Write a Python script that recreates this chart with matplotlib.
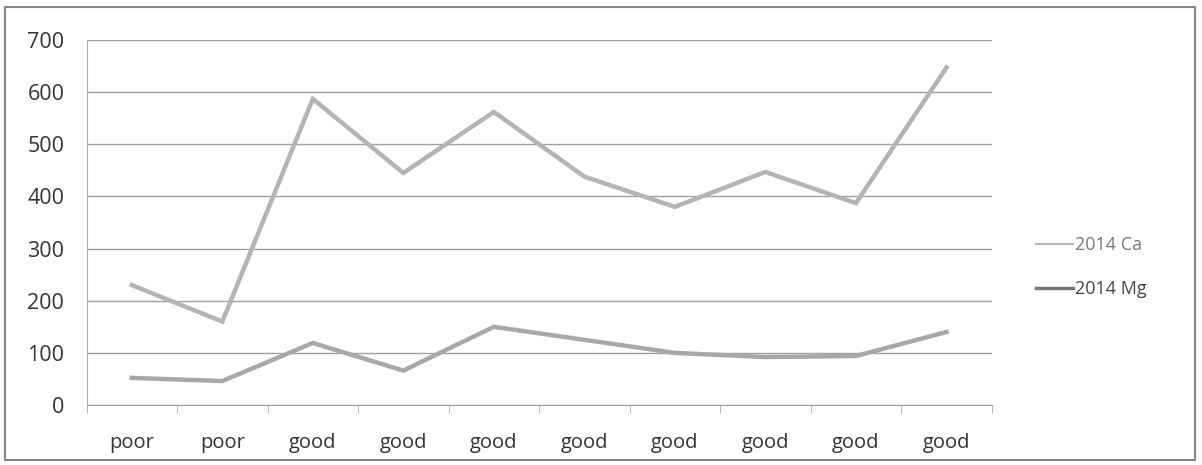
import numpy as np
import matplotlib.pyplot as plt
from matplotlib.patches import Rectangle

# donnees
categories = ['poor', 'poor', 'good', 'good', 'good', 'good', 'good', 'good', 'good', 'good']
ca_2014 = [230, 160, 587, 445, 562, 438, 380, 447, 387, 647]
mg_2014 = [52, 46, 119, 66, 150, 125, 100, 92, 94, 140]
y_ticks = [0, 100, 200, 300, 400, 500, 600, 700]

plt.rcParams['font.family'] = ['Open Sans', 'DejaVu Sans']

fig = plt.figure(figsize=(12.02, 4.65), dpi=100)
ax = fig.add_axes([0.072, 0.129, 0.753, 0.785])

x = np.arange(len(categories))
ax.plot(x, ca_2014, color='#b4b4b4', lw=3.2, label='2014 Ca', solid_joinstyle='miter')
ax.plot(x, mg_2014, color='#a8a8a8', lw=3.2, label='2014 Mg', solid_joinstyle='miter')

ax.set_xlim(-0.5, len(categories) - 0.5)
ax.set_ylim(0, 700)
ax.set_yticks(y_ticks)
ax.set_yticklabels([str(v) for v in y_ticks], fontsize=15.5, color='#333333')
ax.set_xticks(x)
ax.set_xticklabels(categories, fontsize=14.5, color='#333333')
ax.tick_params(axis='x', length=0, pad=20)
ax.tick_params(axis='y', length=0, pad=16)
# petits traits entre les categories (style Excel)
ax.set_xticks(np.arange(-0.5, len(categories)), minor=True)
ax.tick_params(axis='x', which='minor', length=6, color='#aaaaaa')

ax.grid(axis='y', color='#a0a0a0', lw=1.0)
ax.set_axisbelow(True)
for s in ['top', 'right']:
    ax.spines[s].set_visible(False)
ax.spines['left'].set_color('#b0b0b0')
ax.spines['bottom'].set_color('#a0a0a0')

leg = fig.legend(loc='upper left', bbox_to_anchor=(0.848, 0.527), frameon=False,
                 fontsize=13, handlelength=2.1, handletextpad=0.1, labelspacing=1.45)
leg.get_lines()[0].set_linewidth(1.5)
leg.get_lines()[1].set_linewidth(2.5)
leg.get_lines()[1].set_color('#777777')
leg.get_texts()[0].set_color('#777777')
leg.get_texts()[1].set_color('#444444')

# cadre autour du graphique
fig.patches.append(Rectangle((0.004, 0.01), 0.99, 0.975, transform=fig.transFigure,
                             fill=False, edgecolor='#888888', lw=1.5))

plt.savefig('out.png', dpi=100)
